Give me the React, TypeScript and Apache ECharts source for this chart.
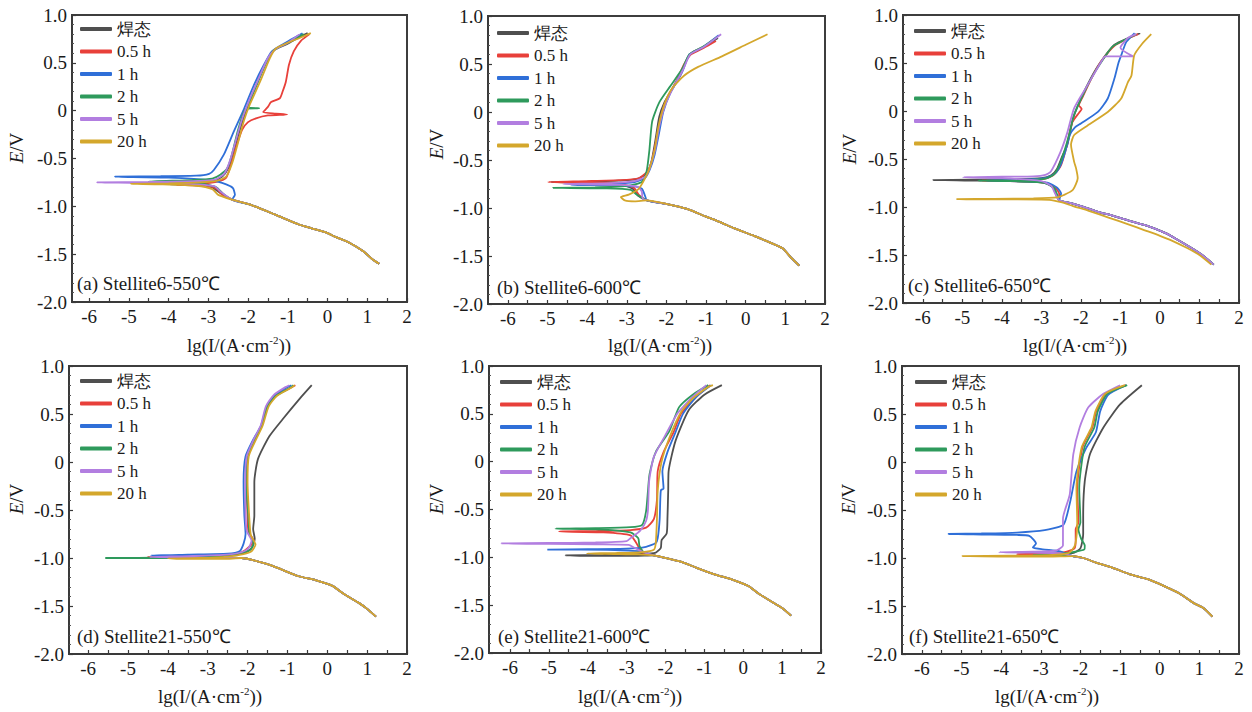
import React, { useEffect, useRef } from 'react';
import * as echarts from 'echarts';

const SERIF = 'Liberation Serif';

const SERIES_NAMES = ['焊态', '0.5 h', '1 h', '2 h', '5 h', '20 h'];
const SERIES_COLORS = ['#4f4f4f', '#e8403a', '#2f6fd8', '#2e9a5c', '#b27ee0', '#d4a72c'];
const PANEL_LABELS = [
  '(a) Stellite6-550℃',
  '(b) Stellite6-600℃',
  '(c) Stellite6-650℃',
  '(d) Stellite21-550℃',
  '(e) Stellite21-600℃',
  '(f) Stellite21-650℃',
];
const X_TICK_LABELS = [-6, -5, -4, -3, -2, -1, 0, 1, 2];
const X_TICK_MARKS = [-6, -5.5, -5, -4.5, -4, -3.5, -3, -2.5, -2, -1.5, -1, -0.5, 0, 0.5, 1, 1.5, 2];

// ---- Panel (a) Stellite6-550℃ ----
const aCath = [[1.3, -1.6], [1.12, -1.55], [0.9, -1.47], [0.55, -1.38], [0.2, -1.32], [0, -1.28], [-0.4, -1.23], [-0.72, -1.19], [-1.3, -1.09], [-1.96, -0.98], [-2.4, -0.93]];
const a0 = [...aCath, [-2.7, -0.86], [-2.92, -0.8], [-3.5, -0.775], [-4.2, -0.765], [-3.5, -0.755], [-2.9, -0.74], [-2.65, -0.69], [-2.5, -0.6], [-2.38, -0.45], [-2.22, -0.22], [-2.05, 0.0], [-1.8, 0.26], [-1.55, 0.5], [-1.35, 0.63], [-1.0, 0.7], [-0.75, 0.76], [-0.5, 0.81]];
const a1 = [...aCath, [-2.65, -0.88], [-2.78, -0.82], [-3.0, -0.785], [-3.8, -0.775], [-3.2, -0.765], [-2.8, -0.745], [-2.55, -0.7], [-2.42, -0.55], [-2.3, -0.38], [-2.15, -0.2], [-2.0, -0.12], [-1.8, -0.08], [-1.5, -0.05], [-1.2, -0.045], [-1.02, -0.04], [-1.3, -0.03], [-1.62, -0.015], [-1.5, 0.04], [-1.42, 0.09], [-1.2, 0.13], [-1.13, 0.2], [-1.05, 0.3], [-0.97, 0.48], [-0.85, 0.62], [-0.67, 0.73], [-0.45, 0.8]];
const a2 = [...aCath, [-2.33, -0.88], [-2.38, -0.81], [-2.55, -0.77], [-2.9, -0.73], [-4.0, -0.7], [-5.35, -0.69], [-4.2, -0.685], [-3.3, -0.68], [-2.98, -0.66], [-2.86, -0.62], [-2.61, -0.46], [-2.36, -0.22], [-2.1, 0.02], [-1.85, 0.27], [-1.6, 0.48], [-1.4, 0.62], [-1.1, 0.7], [-0.85, 0.76], [-0.63, 0.81]];
const a3 = [...aCath, [-2.62, -0.87], [-2.8, -0.8], [-3.2, -0.76], [-4.5, -0.74], [-3.4, -0.725], [-2.9, -0.71], [-2.7, -0.67], [-2.52, -0.6], [-2.4, -0.45], [-2.25, -0.2], [-2.05, 0.02], [-1.72, 0.025], [-2.0, 0.04], [-1.85, 0.2], [-1.6, 0.45], [-1.38, 0.62], [-1.0, 0.71], [-0.6, 0.8]];
const a4 = [...aCath, [-2.68, -0.85], [-2.85, -0.79], [-3.5, -0.765], [-4.8, -0.755], [-5.8, -0.75], [-4.5, -0.745], [-3.2, -0.735], [-2.8, -0.715], [-2.6, -0.66], [-2.46, -0.53], [-2.32, -0.33], [-2.16, -0.1], [-1.98, 0.1], [-1.75, 0.32], [-1.5, 0.55], [-1.32, 0.64], [-1.0, 0.71], [-0.7, 0.8]];
const a5 = [...aCath, [-2.75, -0.88], [-2.9, -0.82], [-3.3, -0.785], [-4.2, -0.77], [-4.95, -0.765], [-4.0, -0.76], [-3.2, -0.75], [-2.8, -0.735], [-2.55, -0.69], [-2.4, -0.55], [-2.25, -0.33], [-2.1, -0.1], [-1.95, 0.07], [-1.7, 0.3], [-1.45, 0.55], [-1.3, 0.65], [-1.0, 0.71], [-0.7, 0.76], [-0.42, 0.81]];

// ---- Panel (b) Stellite6-600℃ ----
const bCath = [[1.35, -1.6], [1.15, -1.52], [0.93, -1.42], [0.5, -1.34], [0.21, -1.29], [-0.3, -1.21], [-0.63, -1.15], [-1.0, -1.09], [-1.48, -1.01], [-1.98, -0.96], [-2.49, -0.92]];
const b0 = [...bCath, [-2.72, -0.87], [-2.85, -0.8], [-3.2, -0.75], [-4.2, -0.735], [-4.9, -0.73], [-4.0, -0.725], [-3.2, -0.715], [-2.75, -0.7], [-2.5, -0.64], [-2.38, -0.52], [-2.28, -0.3], [-2.18, -0.05], [-2.05, 0.1], [-1.88, 0.22], [-1.65, 0.38], [-1.48, 0.55], [-1.35, 0.62], [-1.05, 0.68], [-0.7, 0.77]];
const b1 = [...bCath, [-2.7, -0.86], [-2.82, -0.79], [-3.2, -0.745], [-4.3, -0.735], [-4.98, -0.73], [-4.0, -0.72], [-3.2, -0.71], [-2.7, -0.69], [-2.48, -0.62], [-2.36, -0.5], [-2.25, -0.28], [-2.12, -0.02], [-1.98, 0.15], [-1.75, 0.32], [-1.55, 0.5], [-1.38, 0.6], [-1.05, 0.67], [-0.75, 0.74]];
const b2 = [...bCath, [-2.55, -0.86], [-2.62, -0.8], [-2.8, -0.775], [-3.5, -0.765], [-4.4, -0.76], [-3.5, -0.75], [-2.8, -0.73], [-2.55, -0.69], [-2.42, -0.6], [-2.3, -0.45], [-2.2, -0.25], [-2.08, 0.0], [-1.9, 0.2], [-1.6, 0.42], [-1.42, 0.6], [-1.1, 0.67], [-0.68, 0.8]];
const b3 = [...bCath, [-2.75, -0.86], [-2.9, -0.81], [-3.5, -0.795], [-4.86, -0.79], [-3.8, -0.785], [-3.0, -0.77], [-2.62, -0.73], [-2.5, -0.62], [-2.43, -0.4], [-2.36, -0.1], [-2.18, 0.1], [-1.9, 0.27], [-1.6, 0.45], [-1.42, 0.6], [-1.08, 0.68], [-0.72, 0.78]];
const b4 = [...bCath, [-2.6, -0.9], [-2.62, -0.83], [-2.72, -0.78], [-3.2, -0.76], [-4.6, -0.75], [-3.4, -0.74], [-2.8, -0.72], [-2.52, -0.67], [-2.4, -0.56], [-2.28, -0.38], [-2.18, -0.15], [-2.05, 0.05], [-1.87, 0.22], [-1.58, 0.44], [-1.4, 0.6], [-1.05, 0.68], [-0.62, 0.81]];
const b5 = [...bCath, [-2.8, -0.93], [-3.05, -0.92], [-3.15, -0.885], [-2.95, -0.86], [-2.7, -0.8], [-2.55, -0.7], [-2.42, -0.58], [-2.3, -0.4], [-2.2, -0.15], [-2.05, 0.08], [-1.85, 0.25], [-1.55, 0.38], [-1.2, 0.47], [-0.6, 0.58], [0.0, 0.7], [0.55, 0.81]];

// ---- Panel (c) Stellite6-650℃ ----
const cCath = [[1.36, -1.6], [1.1, -1.51], [0.81, -1.43], [0.4, -1.33], [0.13, -1.27], [-0.3, -1.2], [-0.72, -1.15], [-1.2, -1.09], [-1.57, -1.05], [-2.0, -0.99], [-2.25, -0.96], [-2.55, -0.93]];
const cCath20 = [[1.3, -1.6], [1.0, -1.5], [0.7, -1.43], [0.3, -1.35], [0.0, -1.3], [-0.4, -1.24], [-0.8, -1.18], [-1.3, -1.11], [-1.8, -1.04], [-2.2, -0.99], [-2.5, -0.95]];
const c0 = [...cCath, [-2.62, -0.88], [-2.7, -0.8], [-2.9, -0.75], [-3.6, -0.73], [-4.8, -0.725], [-5.74, -0.72], [-4.8, -0.715], [-3.6, -0.71], [-3.0, -0.7], [-2.75, -0.67], [-2.6, -0.6], [-2.47, -0.47], [-2.34, -0.35], [-2.2, -0.08], [-2.0, 0.13], [-1.75, 0.34], [-1.5, 0.51], [-1.15, 0.69], [-0.8, 0.76], [-0.5, 0.81]];
const c1 = [...cCath, [-2.55, -0.86], [-2.65, -0.8], [-2.9, -0.745], [-3.8, -0.73], [-4.5, -0.725], [-3.6, -0.72], [-2.95, -0.71], [-2.7, -0.67], [-2.52, -0.58], [-2.38, -0.4], [-2.22, -0.12], [-2.05, -0.02], [-1.98, 0.02], [-2.05, 0.06], [-1.95, 0.15], [-1.72, 0.35], [-1.48, 0.52], [-1.15, 0.68], [-0.78, 0.76], [-0.55, 0.8]];
const c2 = [...cCath, [-2.5, -0.86], [-2.6, -0.8], [-2.85, -0.745], [-3.8, -0.73], [-4.4, -0.725], [-3.5, -0.715], [-2.9, -0.7], [-2.65, -0.65], [-2.5, -0.55], [-2.38, -0.4], [-2.28, -0.25], [-2.15, -0.17], [-2.0, -0.13], [-1.57, -0.01], [-1.32, 0.13], [-1.15, 0.34], [-1.05, 0.5], [-0.98, 0.58], [-0.85, 0.72], [-0.64, 0.81]];
const c3 = [...cCath, [-2.6, -0.87], [-2.68, -0.8], [-2.95, -0.745], [-3.8, -0.73], [-4.6, -0.725], [-3.6, -0.72], [-2.9, -0.705], [-2.68, -0.66], [-2.55, -0.57], [-2.42, -0.42], [-2.3, -0.25], [-2.18, -0.05], [-2.0, 0.12], [-1.75, 0.33], [-1.5, 0.5], [-1.2, 0.67], [-0.85, 0.75], [-0.6, 0.8]];
const c4 = [...cCath, [-2.65, -0.86], [-2.75, -0.78], [-3.0, -0.73], [-4.0, -0.7], [-4.98, -0.69], [-4.0, -0.685], [-3.2, -0.68], [-2.9, -0.665], [-2.76, -0.63], [-2.51, -0.42], [-2.34, -0.22], [-2.17, 0.03], [-1.83, 0.27], [-1.49, 0.51], [-1.38, 0.57], [-0.68, 0.57], [-1.0, 0.66], [-0.81, 0.76], [-0.6, 0.8]];
const c5 = [...cCath20, [-2.8, -0.925], [-3.6, -0.92], [-4.5, -0.92], [-5.14, -0.918], [-4.2, -0.915], [-3.2, -0.91], [-2.6, -0.9], [-2.43, -0.875], [-2.2, -0.82], [-2.08, -0.7], [-2.12, -0.6], [-2.17, -0.53], [-2.25, -0.35], [-2.17, -0.25], [-1.83, -0.15], [-1.32, -0.01], [-0.98, 0.13], [-0.81, 0.3], [-0.72, 0.37], [-0.65, 0.58], [-0.45, 0.7], [-0.22, 0.8]];

// ---- Panel (d) Stellite21-550℃ ----
const dCath = [[1.22, -1.61], [1.0, -1.53], [0.8, -1.47], [0.4, -1.37], [0.13, -1.29], [-0.3, -1.23], [-0.72, -1.19], [-1.39, -1.08], [-1.89, -1.02], [-2.15, -1.0]];
const d0 = [...dCath, [-2.5, -1.0], [-3.3, -1.0], [-4.2, -0.995], [-3.3, -0.985], [-2.5, -0.97], [-2.1, -0.95], [-1.9, -0.9], [-1.82, -0.8], [-1.86, -0.7], [-1.83, -0.56], [-1.83, -0.21], [-1.74, 0.03], [-1.45, 0.27], [-1.11, 0.45], [-0.69, 0.66], [-0.39, 0.8]];
const d1 = [...dCath, [-2.6, -1.0], [-3.6, -0.995], [-4.5, -0.99], [-3.5, -0.985], [-2.6, -0.97], [-2.15, -0.94], [-1.95, -0.88], [-1.85, -0.82], [-1.98, -0.72], [-2.0, -0.56], [-2.03, -0.21], [-2.0, 0.06], [-1.81, 0.24], [-1.64, 0.38], [-1.49, 0.58], [-1.3, 0.69], [-0.94, 0.77], [-0.8, 0.8]];
const d2 = [...dCath, [-2.6, -0.99], [-3.5, -0.98], [-4.43, -0.975], [-3.5, -0.965], [-2.5, -0.955], [-2.2, -0.93], [-2.1, -0.85], [-2.05, -0.75], [-2.08, -0.56], [-2.1, -0.21], [-2.05, 0.06], [-1.85, 0.24], [-1.66, 0.38], [-1.52, 0.58], [-1.3, 0.7], [-1.0, 0.78], [-0.9, 0.8]];
const d3 = [...dCath, [-2.8, -1.0], [-4.0, -1.0], [-5.57, -1.0], [-4.0, -0.995], [-2.7, -0.985], [-2.2, -0.95], [-1.95, -0.92], [-1.85, -0.85], [-1.95, -0.75], [-1.98, -0.56], [-2.04, -0.21], [-2.0, 0.06], [-1.82, 0.24], [-1.64, 0.38], [-1.5, 0.58], [-1.28, 0.69], [-0.94, 0.77], [-0.85, 0.8]];
const d4 = [...dCath, [-2.6, -1.0], [-3.5, -0.995], [-4.45, -0.99], [-3.5, -0.98], [-2.5, -0.965], [-2.15, -0.94], [-1.98, -0.9], [-1.9, -0.82], [-2.02, -0.72], [-2.05, -0.56], [-2.06, -0.21], [-2.02, 0.06], [-1.84, 0.24], [-1.67, 0.38], [-1.54, 0.58], [-1.34, 0.7], [-1.05, 0.78], [-0.95, 0.8]];
const d5 = [...dCath, [-2.6, -1.01], [-3.4, -1.01], [-4.0, -1.005], [-3.2, -1.0], [-2.5, -0.985], [-2.1, -0.96], [-1.9, -0.93], [-1.8, -0.86], [-1.92, -0.76], [-1.96, -0.56], [-2.0, -0.21], [-1.97, 0.06], [-1.78, 0.24], [-1.62, 0.38], [-1.47, 0.58], [-1.26, 0.69], [-0.92, 0.77], [-0.82, 0.8]];

// ---- Panel (e) Stellite21-600℃ ----
const eCath = [[1.23, -1.61], [1.0, -1.53], [0.8, -1.48], [0.4, -1.38], [0.13, -1.3], [-0.3, -1.23], [-0.72, -1.18], [-1.2, -1.11], [-1.57, -1.05], [-2.07, -1.0], [-2.3, -0.98]];
const e0 = [...eCath, [-2.8, -0.985], [-3.6, -0.985], [-4.57, -0.98], [-3.6, -0.975], [-2.6, -0.965], [-2.25, -0.95], [-2.12, -0.9], [-2.1, -0.82], [-1.97, -0.75], [-1.95, -0.6], [-1.93, -0.3], [-1.92, -0.1], [-1.74, 0.22], [-1.4, 0.54], [-1.0, 0.7], [-0.55, 0.8]];
const e1 = [...eCath, [-2.6, -0.95], [-2.75, -0.85], [-2.9, -0.77], [-3.6, -0.74], [-4.74, -0.73], [-3.8, -0.725], [-2.9, -0.715], [-2.5, -0.69], [-2.3, -0.6], [-2.22, -0.4], [-2.2, -0.1], [-2.05, 0.1], [-1.8, 0.3], [-1.6, 0.5], [-1.2, 0.68], [-0.85, 0.8]];
const e2 = [...eCath, [-2.6, -0.94], [-3.3, -0.925], [-4.2, -0.92], [-5.04, -0.92], [-4.0, -0.915], [-3.0, -0.91], [-2.5, -0.89], [-2.25, -0.85], [-2.2, -0.8], [-2.15, -0.6], [-2.12, -0.3], [-2.05, -0.28], [-2.08, -0.1], [-1.95, 0.1], [-1.75, 0.3], [-1.55, 0.5], [-1.2, 0.68], [-0.82, 0.8]];
const e3 = [...eCath, [-2.55, -0.95], [-2.67, -0.88], [-2.7, -0.8], [-2.9, -0.74], [-3.6, -0.71], [-4.83, -0.7], [-3.8, -0.695], [-2.9, -0.685], [-2.6, -0.66], [-2.5, -0.52], [-2.45, -0.3], [-2.41, -0.13], [-2.24, 0.11], [-1.9, 0.32], [-1.65, 0.57], [-1.3, 0.7], [-0.9, 0.8]];
const e4 = [...eCath, [-2.6, -0.94], [-2.8, -0.9], [-2.95, -0.87], [-3.8, -0.865], [-5.0, -0.86], [-6.22, -0.855], [-5.0, -0.85], [-3.8, -0.845], [-3.0, -0.83], [-2.9, -0.8], [-2.65, -0.72], [-2.5, -0.62], [-2.45, -0.5], [-2.42, -0.2], [-2.3, 0.05], [-2.0, 0.28], [-1.7, 0.5], [-1.6, 0.55], [-1.3, 0.68], [-0.95, 0.8]];
const e5 = [...eCath, [-2.7, -0.97], [-3.3, -0.965], [-4.02, -0.96], [-3.3, -0.955], [-2.6, -0.945], [-2.3, -0.92], [-2.25, -0.85], [-2.22, -0.6], [-2.2, -0.3], [-2.1, 0.0], [-1.9, 0.25], [-1.6, 0.52], [-1.3, 0.66], [-0.9, 0.78], [-0.78, 0.8]];

// ---- Panel (f) Stellite21-650℃ ----
const fCath = [[1.33, -1.61], [1.1, -1.52], [0.86, -1.47], [0.5, -1.37], [0.1, -1.29], [-0.3, -1.22], [-0.75, -1.17], [-1.2, -1.1], [-1.59, -1.05], [-1.93, -1.0], [-2.2, -0.98]];
const f0 = [...fCath, [-2.6, -0.975], [-3.0, -0.97], [-2.6, -0.96], [-2.2, -0.95], [-2.0, -0.9], [-1.93, -0.75], [-1.93, -0.56], [-1.89, -0.2], [-1.76, 0.08], [-1.42, 0.36], [-1.0, 0.6], [-0.45, 0.8]];
const f1 = [...fCath, [-2.7, -0.965], [-3.6, -0.96], [-2.9, -0.955], [-2.4, -0.94], [-2.15, -0.9], [-2.12, -0.82], [-2.12, -0.7], [-2.05, -0.63], [-2.08, -0.27], [-1.95, 0.15], [-1.7, 0.36], [-1.6, 0.53], [-1.36, 0.71], [-0.85, 0.8]];
const f2 = [...fCath, [-2.52, -0.93], [-2.95, -0.91], [-3.2, -0.89], [-3.12, -0.85], [-3.29, -0.77], [-3.6, -0.76], [-4.5, -0.755], [-5.33, -0.75], [-4.5, -0.745], [-3.6, -0.735], [-2.9, -0.71], [-2.44, -0.66], [-2.37, -0.6], [-2.25, -0.4], [-2.1, -0.1], [-1.85, 0.15], [-1.61, 0.31], [-1.5, 0.53], [-1.3, 0.7], [-0.85, 0.8]];
const f3 = [...fCath, [-2.5, -0.97], [-3.2, -0.97], [-2.6, -0.96], [-2.2, -0.94], [-1.9, -0.91], [-1.89, -0.87], [-1.98, -0.8], [-2.05, -0.7], [-2.0, -0.63], [-2.03, -0.27], [-1.9, 0.15], [-1.65, 0.36], [-1.56, 0.53], [-1.32, 0.71], [-0.82, 0.8]];
const f4 = [...fCath, [-2.5, -0.95], [-3.2, -0.945], [-4.05, -0.94], [-3.2, -0.935], [-2.6, -0.92], [-2.44, -0.87], [-2.44, -0.59], [-2.27, -0.34], [-2.18, 0.08], [-2.02, 0.36], [-1.8, 0.57], [-1.42, 0.71], [-1.0, 0.8]];
const f5 = [...fCath, [-2.8, -0.985], [-3.8, -0.985], [-4.98, -0.98], [-3.8, -0.975], [-2.8, -0.97], [-2.3, -0.95], [-2.15, -0.88], [-2.1, -0.78], [-2.08, -0.63], [-2.1, -0.27], [-1.97, 0.15], [-1.72, 0.36], [-1.62, 0.53], [-1.38, 0.71], [-0.88, 0.8]];

const PANEL_DATA = [
  [a0, a1, a2, a3, a4, a5],
  [b0, b1, b2, b3, b4, b5],
  [c0, c1, c2, c3, c4, c5],
  [d0, d1, d2, d3, d4, d5],
  [e0, e1, e2, e3, e4, e5],
  [f0, f1, f2, f3, f4, f5],
];

// layout (pixels)
const GRIDS = [
  { left: 72, top: 15, width: 335, height: 287 },
  { left: 488, top: 16, width: 337, height: 288 },
  { left: 903, top: 15, width: 336, height: 288 },
  { left: 69, top: 366, width: 338, height: 288 },
  { left: 489, top: 366, width: 332, height: 287 },
  { left: 902, top: 366, width: 337, height: 288 },
];
const X_MINS = [-6.43, -6.5, -6.5, -6.48, -6.54, -6.5];
const LEGEND_POS = [[80, 20], [497, 24], [914, 22], [80, 372], [500, 373], [915, 373]];
const LABEL_POS = [[77, 283], [497, 287], [908, 285], [77, 636], [498, 636], [909, 636]];
const XNAME_POS = [[239, 345], [660, 345], [1075, 345], [210, 696], [630, 696], [1047, 696]];
const YNAME_POS = [[16, 148], [436, 144], [849, 149], [16, 499], [436, 499], [848, 499]];

export default function App() {
  const ref = useRef<HTMLDivElement>(null);

  useEffect(() => {
    document.body.style.margin = '0';
    if (!ref.current) return;
    const chart = echarts.init(ref.current, undefined, { renderer: 'svg' });

    const grid = GRIDS.map((g) => ({
      ...g,
      show: true,
      borderColor: '#3d3d3d',
      borderWidth: 2,
      backgroundColor: 'transparent',
    }));

    const xAxis = GRIDS.map((_, i) => ({
      gridIndex: i,
      type: 'value',
      min: X_MINS[i],
      max: 2,
      axisLine: { show: true, onZero: false, lineStyle: { color: '#3a3a3a', width: 2 } },
      axisTick: {
        show: true,
        inside: true,
        length: 4,
        customValues: X_TICK_MARKS,
        lineStyle: { color: '#3a3a3a', width: 1.2 },
      },
      axisLabel: {
        customValues: X_TICK_LABELS,
        fontSize: 19,
        fontFamily: SERIF,
        color: '#1a1a1a',
        margin: 5,
        formatter: (v: number) => String(v),
      },
      splitLine: { show: false },
    }));

    const yAxis = GRIDS.map((_, i) => ({
      gridIndex: i,
      type: 'value',
      min: -2,
      max: 1,
      interval: 0.5,
      axisLine: { show: true, onZero: false, lineStyle: { color: '#3a3a3a', width: 2 } },
      axisTick: { show: true, inside: true, length: 4, lineStyle: { color: '#3a3a3a', width: 1.2 } },
      minorTick: { show: true, splitNumber: 5, length: 2, lineStyle: { color: '#555', width: 1 } },
      axisLabel: {
        fontSize: 19,
        fontFamily: SERIF,
        color: '#1a1a1a',
        margin: 5,
        formatter: (v: number) => (v === 0 ? '0' : v.toFixed(1)),
      },
      splitLine: { show: false },
    }));

    const series: any[] = [];
    PANEL_DATA.forEach((curves, p) => {
      curves.forEach((data, s) => {
        series.push({
          type: 'line',
          name: SERIES_NAMES[s],
          xAxisIndex: p,
          yAxisIndex: p,
          data,
          showSymbol: false,
          symbol: 'none',
          smooth: 0.2,
          clip: true,
          lineStyle: { width: 1.8, color: SERIES_COLORS[s] },
          itemStyle: { color: SERIES_COLORS[s] },
          emphasis: { disabled: true },
        });
      });
    });

    const legend = LEGEND_POS.map(([l, t]) => ({
      data: SERIES_NAMES,
      left: l,
      top: t,
      orient: 'vertical',
      icon: 'roundRect',
      itemWidth: 32,
      itemHeight: 4,
      itemGap: 4.5,
      selectedMode: false,
      padding: 0,
      textStyle: { fontSize: 17, fontFamily: SERIF, color: '#1a1a1a', lineHeight: 18 },
    }));

    const graphic: any[] = [];
    PANEL_LABELS.forEach((label, i) => {
      graphic.push({
        type: 'text',
        x: LABEL_POS[i][0],
        y: LABEL_POS[i][1],
        style: {
          text: label,
          fontSize: 19,
          fontFamily: SERIF,
          fill: '#1a1a1a',
          align: 'left',
          verticalAlign: 'middle',
        },
      });
      graphic.push({
        type: 'text',
        x: XNAME_POS[i][0],
        y: XNAME_POS[i][1],
        style: {
          text: '{n|lg(I/(A·cm}{s|-2}{n|))}',
          fontSize: 19,
          fontFamily: SERIF,
          fill: '#1a1a1a',
          align: 'center',
          verticalAlign: 'middle',
          rich: {
            n: { fontSize: 19, fontFamily: SERIF, fill: '#1a1a1a', lineHeight: 21 },
            s: { fontSize: 11, fontFamily: SERIF, fill: '#1a1a1a', lineHeight: 11, verticalAlign: 'top' },
          },
        },
      });
      graphic.push({
        type: 'text',
        x: YNAME_POS[i][0],
        y: YNAME_POS[i][1],
        rotation: Math.PI / 2,
        style: {
          text: '{i|E}{n|/V}',
          fontSize: 19,
          fontFamily: SERIF,
          fill: '#1a1a1a',
          align: 'center',
          verticalAlign: 'middle',
          rich: {
            i: { fontSize: 19, fontFamily: SERIF, fontStyle: 'italic', fill: '#1a1a1a' },
            n: { fontSize: 19, fontFamily: SERIF, fill: '#1a1a1a' },
          },
        },
      });
    });

    chart.setOption({
      animation: false,
      backgroundColor: '#ffffff',
      grid,
      xAxis,
      yAxis,
      legend,
      series,
      graphic,
    } as any);

    return () => chart.dispose();
  }, []);

  return <div ref={ref} style={{ width: 1252, height: 712 }} />;
}
